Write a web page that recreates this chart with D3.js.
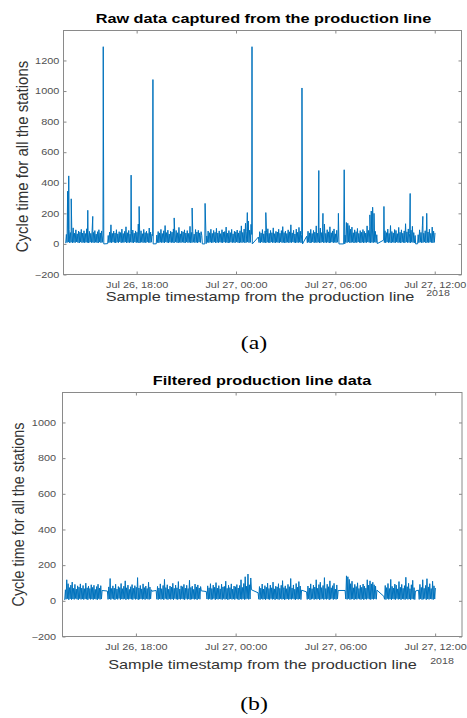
<!DOCTYPE html>
<html>
<head>
<meta charset="utf-8">
<script src="https://cdn.jsdelivr.net/npm/d3@7"></script>
<style>
  body { margin: 0; background: #fff; }
  text { font-family: "Liberation Sans", Arial, Helvetica, sans-serif; }
</style>
</head>
<body>
<div id="chart"></div>
<script>
// Production blocks: start / end of each run of samples
var segTimes = [
  ["2018-07-26 13:43", "2018-07-26 15:58"],
  ["2018-07-26 16:17", "2018-07-26 18:58"],
  ["2018-07-26 19:13", "2018-07-26 21:56"],
  ["2018-07-26 22:14", "2018-07-27 00:57"],
  ["2018-07-27 01:21", "2018-07-27 03:58"],
  ["2018-07-27 04:16", "2018-07-27 06:10"],
  ["2018-07-27 06:35", "2018-07-27 08:30"],
  ["2018-07-27 08:55", "2018-07-27 10:49"],
  ["2018-07-27 11:00", "2018-07-27 12:01"]
];

// Cycle time samples inside each block
var seg1 = [5, 62, 9, 118, 12, 96, 6, 74, 11, 88, 7, 105, 10, 70, 8, 92, 13, 66, 9, 84, 6, 77, 12, 95, 8, 71, 10, 86, 7, 68, 11, 99, 9, 73, 6, 82, 12, 69, 8, 90, 10, 75, 7, 87, 11, 64, 9, 80, 6, 93, 12, 72, 8, 85, 10, 58];
var seg2 = [55, 8, 78, 10, 125, 7, 69, 12, 84, 9, 71, 6, 93, 11, 66, 8, 80, 13, 74, 7, 97, 10, 68, 9, 82, 12, 112, 6, 73, 10, 88, 8, 64, 11, 79, 9, 91, 7, 70, 12, 85, 8, 76, 10, 130, 6, 72, 9, 86, 11, 67, 8, 95, 10, 74, 7, 83, 12, 69, 9, 104, 8, 77, 11, 62, 54];
var seg3 = [58, 9, 81, 7, 72, 11, 95, 8, 68, 10, 86, 6, 120, 12, 74, 9, 90, 7, 65, 11, 83, 8, 77, 10, 98, 6, 70, 12, 88, 9, 73, 7, 108, 10, 66, 8, 84, 11, 79, 9, 92, 6, 71, 12, 87, 8, 69, 10, 115, 7, 75, 9, 82, 11, 64, 8, 94, 10, 78, 6, 89, 12, 72, 9, 80, 56];
var seg4 = [52, 10, 84, 8, 73, 11, 96, 7, 69, 9, 88, 12, 76, 6, 102, 10, 71, 8, 85, 11, 67, 9, 93, 7, 78, 12, 81, 8, 110, 10, 70, 6, 87, 9, 74, 11, 95, 8, 66, 10, 83, 7, 79, 12, 91, 9, 72, 6, 86, 10, 118, 8, 75, 11, 97, 7, 135, 9, 82, 12, 150, 8, 90, 10, 128, 62];
var seg5 = [45, 9, 80, 7, 71, 12, 94, 8, 66, 10, 85, 6, 76, 11, 99, 9, 69, 7, 88, 12, 73, 8, 105, 10, 67, 6, 82, 11, 78, 9, 96, 7, 70, 12, 87, 8, 113, 10, 74, 6, 84, 9, 68, 11, 92, 7, 79, 10, 125, 8, 72, 12, 89, 9, 65, 6, 97, 10, 76, 8, 108, 11, 83, 7, 60];
var seg6 = [50, 8, 83, 11, 72, 6, 95, 9, 68, 12, 88, 7, 77, 10, 118, 8, 70, 11, 91, 6, 104, 9, 74, 12, 86, 7, 130, 10, 69, 8, 93, 11, 79, 6, 112, 9, 73, 12, 85, 7, 98, 10, 66, 8, 89, 11, 58];
var seg7 = [58, 10, 140, 8, 135, 12, 120, 7, 96, 9, 110, 11, 73, 6, 92, 10, 80, 8, 101, 12, 69, 9, 87, 7, 76, 11, 94, 6, 82, 10, 71, 8, 118, 12, 88, 9, 112, 7, 95, 10, 104, 8, 90, 11, 82, 9, 60];
var seg8 = [25, 9, 86, 7, 74, 12, 97, 8, 69, 10, 120, 6, 81, 11, 72, 9, 94, 7, 88, 12, 67, 8, 108, 10, 76, 6, 92, 11, 70, 9, 85, 7, 132, 12, 79, 8, 98, 10, 68, 6, 90, 11, 115, 9, 74, 7, 55];
var seg9 = [60, 8, 92, 11, 75, 7, 118, 9, 70, 12, 86, 6, 124, 10, 78, 8, 96, 11, 69, 9, 110, 7, 84, 10, 72];
var segments = [seg1, seg2, seg3, seg4, seg5, seg6, seg7, seg8, seg9];

// Outliers only present in the raw capture
var outliers = [
  ["2018-07-26 13:50", 345], ["2018-07-26 13:54", 445], ["2018-07-26 14:03", 295],
  ["2018-07-26 15:03", 220], ["2018-07-26 15:21", 180], ["2018-07-26 15:59", 1290],
  ["2018-07-26 17:40", 450], ["2018-07-26 18:09", 245], ["2018-07-26 18:59", 1075],
  ["2018-07-26 20:16", 170], ["2018-07-26 21:21", 235], ["2018-07-26 22:08", 265],
  ["2018-07-27 00:41", 205], ["2018-07-27 00:58", 1290], ["2018-07-27 01:48", 205],
  ["2018-07-27 03:59", 1020], ["2018-07-27 05:00", 480], ["2018-07-27 05:15", 200],
  ["2018-07-27 06:11", 200], ["2018-07-27 06:32", 485], ["2018-07-27 08:05", 190],
  ["2018-07-27 08:10", 215], ["2018-07-27 08:15", 240], ["2018-07-27 08:20", 200],
  ["2018-07-27 08:56", 245], ["2018-07-27 10:31", 330], ["2018-07-27 11:17", 180],
  ["2018-07-27 11:31", 200]
];

// Idle readings between blocks (raw capture only)
var idle = [
  ["2018-07-26 16:01", 0], ["2018-07-26 16:15", 2], ["2018-07-26 19:00", 0],
  ["2018-07-26 19:11", 1], ["2018-07-26 21:58", 0], ["2018-07-26 22:07", 0],
  ["2018-07-26 22:12", 2], ["2018-07-27 00:59", 0], ["2018-07-27 04:01", 0],
  ["2018-07-27 06:13", 0], ["2018-07-27 06:30", 0], ["2018-07-27 06:34", 0],
  ["2018-07-27 08:32", 2], ["2018-07-27 10:51", 0], ["2018-07-27 10:58", 1]
];

var yTicksRaw = [-200, 0, 200, 400, 600, 800, 1000, 1200];
var yTicksFiltered = [-200, 0, 200, 400, 600, 800, 1000];

var svgWidth = 467;
var svgHeight = 718;

var svg = d3.select("#chart")
  .append("svg")
  .attr("width", svgWidth)
  .attr("height", svgHeight);

var parseTime = d3.timeParse("%Y-%m-%d %H:%M");
var xDomain = [parseTime("2018-07-26 13:35"), parseTime("2018-07-27 13:37")];

// build the sample series
var bandData = [];
segments.forEach(function(vals, i) {
  var t0 = parseTime(segTimes[i][0]);
  var t1 = parseTime(segTimes[i][1]);
  var step = (t1 - t0) / (vals.length - 1);
  vals.forEach(function(v, j) {
    bandData.push({ time: new Date(+t0 + j * step), value: v });
  });
});

var extra = outliers.concat(idle).map(function(d) {
  return { time: parseTime(d[0]), value: d[1] };
});
var rawData = bandData.concat(extra).sort(function(a, b) { return a.time - b.time; });

var panels = [
  {
    data: rawData, left: 63.5, right: 461.5, top: 30.5, bottom: 274.5, yMax: 1396, yTicks: yTicksRaw,
    title: "Raw data captured from the production line", titleX: 263.5, titleY: 23,
    yPad: 3.4, xLabelX: 260, xLabelY: 301, yearX: 438, yearY: 296,
    yLabelX: 22.5, yLabelY: 156.5, yLabelSize: 15, caption: "(a)", captionY: 349
  },
  {
    data: bandData, left: 62.5, right: 462, top: 392.5, bottom: 636.5, yMax: 1168, yTicks: yTicksFiltered,
    title: "Filtered production line data", titleX: 262, titleY: 385,
    yPad: 5.2, xLabelX: 262.5, xLabelY: 669, yearX: 442, yearY: 664,
    yLabelX: 18.5, yLabelY: 514.5, yLabelSize: 14.4, caption: "(b)", captionY: 710
  }
];

panels.forEach(function(p) {
  var x = d3.scaleTime().domain(xDomain).range([p.left, p.right]);
  var y = d3.scaleLinear().domain([-200, p.yMax]).range([p.bottom, p.top]);
  var g = svg.append("g");

  // series line
  var line = d3.line()
    .x(d => x(d.time))
    .y(d => y(d.value));

  g.append("path")
    .datum(p.data)
    .attr("d", line)
    .attr("fill", "none")
    .attr("stroke", "#0072bd")
    .attr("stroke-width", 1)
    .attr("stroke-linejoin", "round");

  // axes, ticks pointing inward on all four sides
  var bottomAxis = d3.axisBottom(x)
    .ticks(d3.timeHour.every(6))
    .tickFormat(d3.timeFormat("%b %d, %H:%M"))
    .tickSizeInner(-3).tickSizeOuter(0).tickPadding(7);
  var topAxis = d3.axisTop(x)
    .ticks(d3.timeHour.every(6))
    .tickFormat("")
    .tickSizeInner(-3).tickSizeOuter(0);
  var leftAxis = d3.axisLeft(y)
    .tickValues(p.yTicks)
    .tickFormat(d3.format("d"))
    .tickSizeInner(-3).tickSizeOuter(0).tickPadding(p.yPad);
  var rightAxis = d3.axisRight(y)
    .tickValues(p.yTicks)
    .tickFormat("")
    .tickSizeInner(-3).tickSizeOuter(0);

  var axes = [
    g.append("g").attr("transform", `translate(0, ${p.bottom})`).call(bottomAxis),
    g.append("g").attr("transform", `translate(0, ${p.top})`).call(topAxis),
    g.append("g").attr("transform", `translate(${p.left}, 0)`).call(leftAxis),
    g.append("g").attr("transform", `translate(${p.right}, 0)`).call(rightAxis)
  ];
  axes.forEach(function(a) {
    a.select(".domain").remove();
    a.attr("font-family", null).attr("font-size", null);
    a.selectAll(".tick line").attr("stroke", "#8a8a8a");
    a.selectAll(".tick text")
      .attr("fill", "#505050")
      .style("font-size", "8.7px")
      .attr("transform", "scale(1.25,1)");
  });

  // box
  g.append("rect")
    .attr("x", p.left)
    .attr("y", p.top)
    .attr("width", p.right - p.left)
    .attr("height", p.bottom - p.top)
    .attr("fill", "none")
    .attr("stroke", "#8a8a8a")
    .attr("stroke-width", 1);

  // title
  g.append("text")
    .attr("transform", `translate(${p.titleX}, ${p.titleY}) scale(1.25,1)`)
    .attr("text-anchor", "middle")
    .style("font-size", "13px")
    .style("font-weight", "bold")
    .attr("fill", "#000")
    .text(p.title);

  // x label and year
  g.append("text")
    .attr("transform", `translate(${p.xLabelX}, ${p.xLabelY}) scale(1.25,1)`)
    .attr("text-anchor", "middle")
    .style("font-size", "13px")
    .attr("fill", "#333")
    .text("Sample timestamp from the production line");

  g.append("text")
    .attr("transform", `translate(${p.yearX}, ${p.yearY}) scale(1.25,1)`)
    .attr("text-anchor", "middle")
    .style("font-size", "8.5px")
    .attr("fill", "#505050")
    .text("2018");

  // y label
  g.append("text")
    .attr("transform", `translate(${p.yLabelX}, ${p.yLabelY}) scale(1.1,1) rotate(-90)`)
    .attr("text-anchor", "middle")
    .attr("dy", "0.35em")
    .style("font-size", p.yLabelSize + "px")
    .attr("fill", "#333")
    .text("Cycle time for all the stations");

  // caption
  g.append("text")
    .attr("transform", `translate(254, ${p.captionY}) scale(1.25,1)`)
    .attr("text-anchor", "middle")
    .style("font-family", "'Liberation Serif', 'Times New Roman', serif")
    .style("font-size", "19px")
    .attr("fill", "#000")
    .text(p.caption);
});
</script>
</body>
</html>
